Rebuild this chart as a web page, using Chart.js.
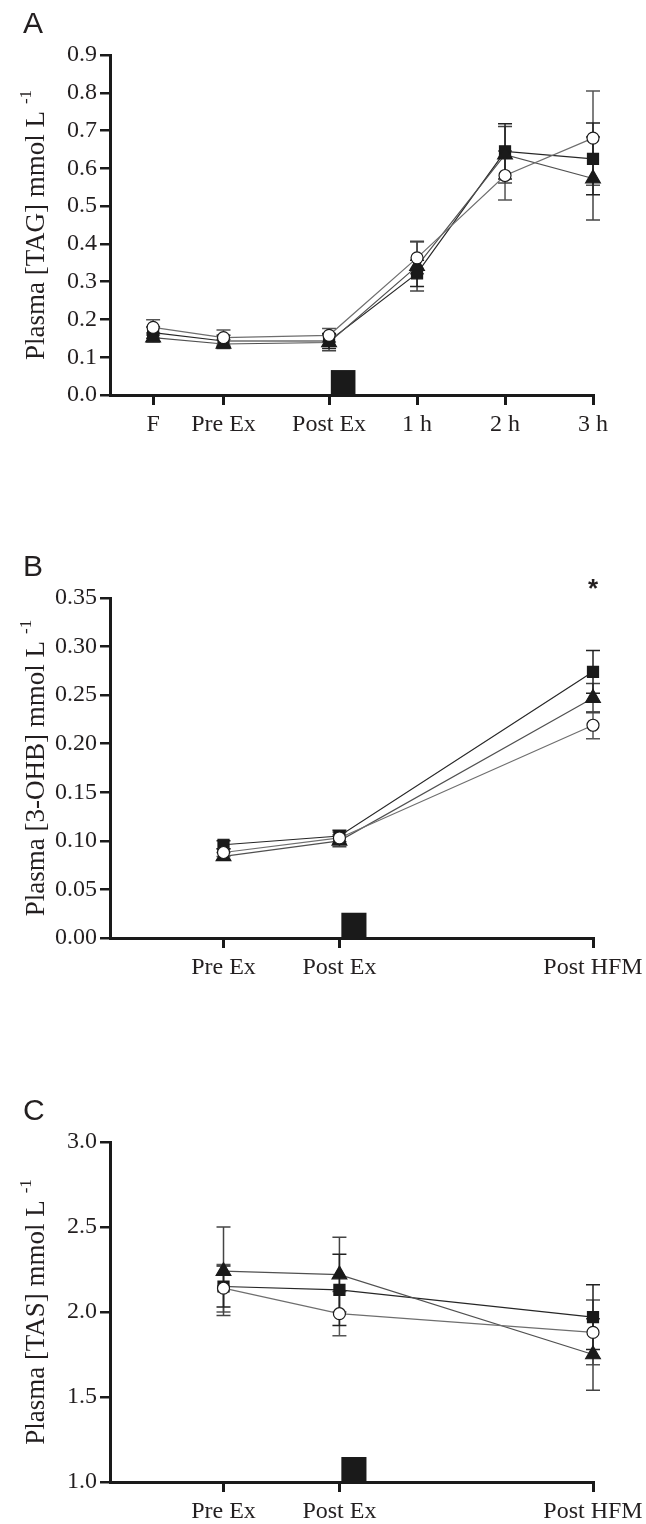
<!DOCTYPE html>
<html>
<head>
<meta charset="utf-8">
<script src="https://cdn.jsdelivr.net/npm/chart.js@4.4.0/dist/chart.umd.min.js"></script>
<style>
  body { margin: 0; background: #fff; width: 646px; height: 1524px; position: relative; overflow: hidden; }
  .panel { position: absolute; left: 0; width: 646px; }
</style>
</head>
<body>
<div class="panel" style="top:0"><canvas id="chartA" width="646" height="440"></canvas></div>
<div class="panel" style="top:543px"><canvas id="chartB" width="646" height="440"></canvas></div>
<div class="panel" style="top:1087px"><canvas id="chartC" width="646" height="437"></canvas></div>
<script>
// panel A - TAG, x in hours relative to end of exercise
const tagTimes = [-2, -1.2, 0, 1, 2, 3];
const tagLabels = ["F", "Pre Ex", "Post Ex", "1 h", "2 h", "3 h"];
const tagCircle = [0.179, 0.152, 0.158, 0.363, 0.581, 0.68];
const tagSquare = [0.165, 0.143, 0.143, 0.322, 0.645, 0.625];
const tagTriangle = [0.152, 0.135, 0.139, 0.341, 0.636, 0.573];
const tagCircleErr = [0.02, 0.02, 0.018, 0.042, 0.065, 0.125];
const tagSquareErr = [0.015, 0.015, 0.02, 0.035, 0.073, 0.095];
const tagTriangleErr = [0.012, 0.012, 0.022, 0.066, 0.075, 0.11];

// panels B and C share the x positions
const laterTimes = [2.35, 4.75, 10];
const laterLabels = ["Pre Ex", "Post Ex", "Post HFM"];

// panel B - 3-OHB
const ohbCircle = [0.088, 0.103, 0.219];
const ohbSquare = [0.096, 0.105, 0.274];
const ohbTriangle = [0.084, 0.1, 0.247];
const ohbCircleErr = [0.004, 0.006, 0.014];
const ohbSquareErr = [0.004, 0.006, 0.022];
const ohbTriangleErr = [0.004, 0.006, 0.015];

// panel C - TAS
const tasCircle = [2.14, 1.99, 1.88];
const tasSquare = [2.15, 2.13, 1.97];
const tasTriangle = [2.24, 2.22, 1.75];
const tasCircleErr = [0.14, 0.13, 0.19];
const tasSquareErr = [0.12, 0.21, 0.19];
const tasTriangleErr = [0.26, 0.22, 0.21];

const serif = "'Liberation Serif', 'Times New Roman', serif";
const ink = "#231f20";

const errorBars = {
  id: "errorBars",
  beforeDatasetsDraw(chart) {
    const ctx = chart.ctx, xs = chart.scales.x, ys = chart.scales.y;
    chart.data.datasets.forEach((ds) => {
      ctx.save();
      ctx.strokeStyle = ds.errColor;
      ctx.lineWidth = 1.5;
      ds.data.forEach((p, i) => {
        const e = ds.errors[i];
        const x = xs.getPixelForValue(p.x);
        const y1 = ys.getPixelForValue(p.y + e);
        const y2 = ys.getPixelForValue(p.y - e);
        ctx.beginPath();
        ctx.moveTo(x, y1); ctx.lineTo(x, y2);
        ctx.moveTo(x - 7, y1); ctx.lineTo(x + 7, y1);
        ctx.moveTo(x - 7, y2); ctx.lineTo(x + 7, y2);
        ctx.stroke();
      });
      ctx.restore();
    });
  },
};

const decorations = {
  id: "decorations",
  afterDraw(chart, args, opts) {
    const ctx = chart.ctx, xs = chart.scales.x, ys = chart.scales.y;
    const area = chart.chartArea;
    ctx.save();
    // panel letter
    ctx.fillStyle = ink;
    ctx.font = "30px 'Liberation Sans', Arial, sans-serif";
    ctx.textBaseline = "alphabetic";
    ctx.fillText(opts.letter, 23, 33);

    // exercise block
    ctx.fillStyle = "#1a1a1a";
    const bx0 = xs.getPixelForValue(opts.box[0]);
    const bx1 = xs.getPixelForValue(opts.box[1]);
    const by = ys.getPixelForValue(opts.box[2]);
    ctx.fillRect(bx0, by, bx1 - bx0, area.bottom - by);

    // significance star
    if (opts.star) {
      ctx.fillStyle = ink;
      ctx.font = "bold 26px 'Liberation Sans', Arial, sans-serif";
      ctx.textAlign = "center";
      ctx.textBaseline = "middle";
      ctx.fillText("*", xs.getPixelForValue(opts.star[0]), ys.getPixelForValue(opts.star[1]));
    }

    // y title with superscript
    ctx.fillStyle = ink;
    ctx.textAlign = "left";
    ctx.textBaseline = "alphabetic";
    ctx.translate(44, (area.top + area.bottom) / 2);
    ctx.rotate(-Math.PI / 2);
    ctx.font = "27px " + serif;
    const w1 = ctx.measureText(opts.title).width;
    ctx.font = "17px " + serif;
    const w2 = ctx.measureText("-1").width;
    const start = -(w1 + 7 + w2) / 2;
    ctx.font = "27px " + serif;
    ctx.fillText(opts.title, start, 0);
    ctx.font = "17px " + serif;
    ctx.fillText("-1", start + w1 + 7, -13);
    ctx.restore();
  },
};

function series(xs, ys, errs, style, radius, line, errColor, fill) {
  return {
    data: xs.map((x, i) => ({ x: x, y: ys[i] })),
    errors: errs,
    errColor: errColor,
    borderColor: line,
    borderWidth: 1.2,
    pointStyle: style,
    pointRadius: radius,
    pointHoverRadius: radius,
    pointBackgroundColor: fill,
    pointBorderColor: "#1a1a1a",
    pointBorderWidth: 1.2,
    tension: 0,
    clip: false,
  };
}

function makePanel(id, p) {
  const canvas = document.getElementById(id);
  const h = canvas.height;
  return new Chart(canvas.getContext("2d"), {
    type: "line",
    data: {
      datasets: [
        series(p.x, p.circle, p.circleErr, "circle", 6, "#6e6e6e", "#555", "#fff"),
        series(p.x, p.triangle, p.triangleErr, "triangle", 8.5, "#505050", "#444", "#1a1a1a"),
        series(p.x, p.square, p.squareErr, "rect", 7.8, "#262626", "#222", "#1a1a1a"),
      ],
    },
    options: {
      responsive: false,
      animation: false,
      layout: { padding: { top: 55, right: 53, left: 0, bottom: 0 } },
      plugins: {
        legend: { display: false },
        tooltip: { enabled: false },
        decorations: { letter: p.letter, title: p.title, box: p.box, star: p.star },
      },
      scales: {
        x: {
          type: "linear",
          min: p.xMin,
          max: p.xMax,
          afterFit: (scale) => {
            scale.height = h - 395;
            scale.paddingLeft = 0;
            scale.paddingRight = 0;
          },
          afterBuildTicks: (scale) => { scale.ticks = p.x.map((v) => ({ value: v })); },
          ticks: {
            autoSkip: false,
            maxRotation: 0,
            padding: 5,
            color: ink,
            font: { family: serif, size: 24 },
            callback: (v, i) => p.labels[i],
          },
          grid: { drawOnChartArea: false, drawTicks: true, tickLength: 10, color: "#1a1a1a", lineWidth: 3 },
          border: { display: true, color: "#1a1a1a", width: 3 },
        },
        y: {
          min: p.yMin,
          max: p.yMax,
          afterFit: (scale) => { scale.width = 110; },
          ticks: {
            stepSize: p.yStep,
            padding: 3,
            color: ink,
            font: { family: serif, size: 24 },
            callback: (v) => v.toFixed(p.yDigits),
          },
          grid: { drawOnChartArea: false, drawTicks: true, tickLength: 10, color: "#1a1a1a", lineWidth: 2.5 },
          border: { display: true, color: "#1a1a1a", width: 3 },
        },
      },
    },
    plugins: [errorBars, decorations],
  });
}

makePanel("chartA", {
  letter: "A", title: "Plasma [TAG] mmol L",
  x: tagTimes, labels: tagLabels, xMin: -2.49, xMax: 3,
  circle: tagCircle, square: tagSquare, triangle: tagTriangle,
  circleErr: tagCircleErr, squareErr: tagSquareErr, triangleErr: tagTriangleErr,
  yMin: 0, yMax: 0.9, yStep: 0.1, yDigits: 1,
  box: [0.02, 0.3, 0.066],
});

makePanel("chartB", {
  letter: "B", title: "Plasma [3-OHB] mmol L",
  x: laterTimes, labels: laterLabels, xMin: 0, xMax: 10,
  circle: ohbCircle, square: ohbSquare, triangle: ohbTriangle,
  circleErr: ohbCircleErr, squareErr: ohbSquareErr, triangleErr: ohbTriangleErr,
  yMin: 0, yMax: 0.35, yStep: 0.05, yDigits: 2,
  box: [4.79, 5.31, 0.026], star: [10, 0.358],
});

makePanel("chartC", {
  letter: "C", title: "Plasma [TAS] mmol L",
  x: laterTimes, labels: laterLabels, xMin: 0, xMax: 10,
  circle: tasCircle, square: tasSquare, triangle: tasTriangle,
  circleErr: tasCircleErr, squareErr: tasSquareErr, triangleErr: tasTriangleErr,
  yMin: 1, yMax: 3, yStep: 0.5, yDigits: 1,
  box: [4.79, 5.31, 1.147],
});
</script>
</body>
</html>
